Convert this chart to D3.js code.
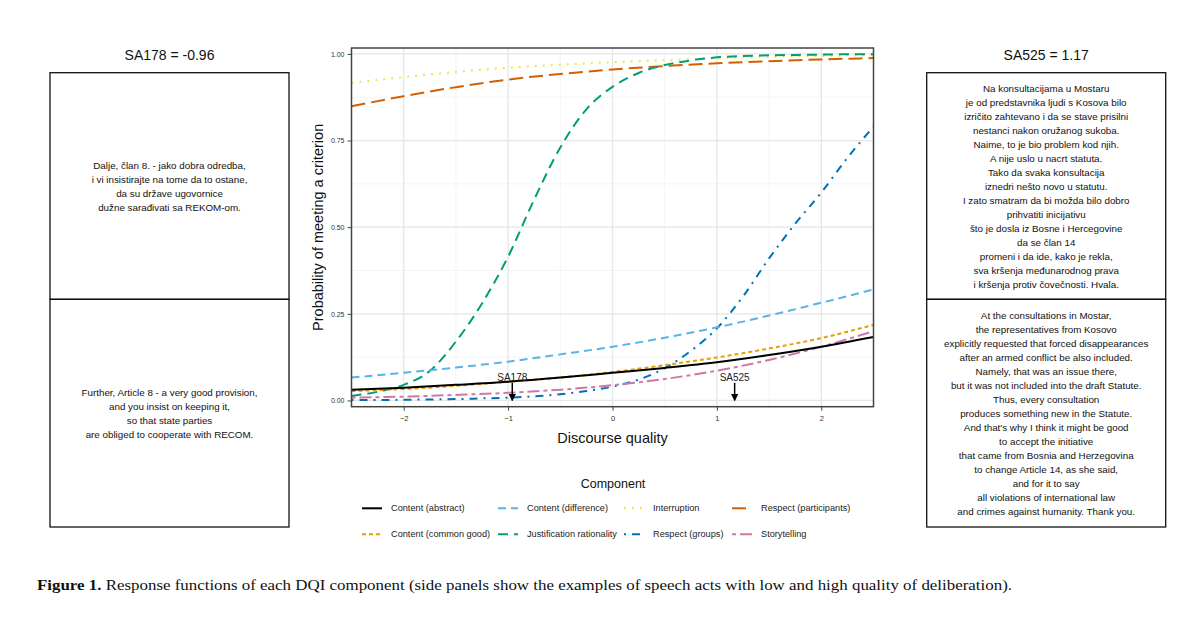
<!DOCTYPE html>
<html>
<head>
<meta charset="utf-8">
<script src="https://cdn.jsdelivr.net/npm/d3@7"></script>
<style>
  html, body { margin: 0; padding: 0; background: #fff; }
  svg { display: block; font-family: "Liberation Sans", Arial, sans-serif; }
</style>
</head>
<body>
<svg id="chart" width="1200" height="623"></svg>
<script>
// ---------------- DATA ----------------
const xCoarse = [-2.5, -2, -1.5, -1, -0.5, 0, 0.5, 1, 1.5, 2, 2.5];
const xFine = [-2.5, -2.25, -2, -1.75, -1.5, -1.25, -1, -0.75, -0.5, -0.25, 0,
               0.25, 0.5, 0.75, 1, 1.25, 1.5, 1.75, 2, 2.25, 2.5];

const contentAbstract     = [0.031, 0.037, 0.045, 0.054, 0.066, 0.080, 0.094, 0.110, 0.131, 0.155, 0.183];
const contentDifference   = [0.066, 0.080, 0.095, 0.112, 0.133, 0.155, 0.181, 0.211, 0.245, 0.282, 0.320];
const interruption        = [0.916, 0.933, 0.948, 0.960, 0.969, 0.976, 0.982, 0.987, 0.991, 0.994, 0.996];
const respectParticipants = [0.849, 0.878, 0.904, 0.926, 0.942, 0.955, 0.965, 0.973, 0.979, 0.984, 0.988];
const contentCommonGood   = [0.027, 0.033, 0.042, 0.054, 0.066, 0.082, 0.102, 0.124, 0.150, 0.180, 0.218];
const storytelling        = [0.008, 0.011, 0.016, 0.022, 0.031, 0.044, 0.062, 0.086, 0.117, 0.155, 0.200];
const justification       = [0.013, 0.025, 0.045, 0.085, 0.170, 0.280, 0.415, 0.580, 0.730, 0.840, 0.905,
                             0.945, 0.968, 0.981, 0.990, 0.994, 0.996, 0.997, 0.998, 0.999, 0.999];
const respectGroups       = [0.001, 0.001, 0.002, 0.003, 0.004, 0.006, 0.008, 0.012, 0.018, 0.027, 0.040,
                             0.060, 0.093, 0.143, 0.208, 0.300, 0.410, 0.510, 0.600, 0.700, 0.790];

const seriesNames  = ["Content (abstract)", "Content (difference)", "Interruption", "Respect (participants)",
                      "Content (common good)", "Justification rationality", "Respect (groups)", "Storytelling"];
const seriesValues = [contentAbstract, contentDifference, interruption, respectParticipants,
                      contentCommonGood, justification, respectGroups, storytelling];
const seriesX      = [xCoarse, xCoarse, xCoarse, xCoarse, xCoarse, xFine, xFine, xCoarse];
const seriesColors = ["#000000", "#56B4E9", "#F0E442", "#D55E00", "#E69F00", "#009E73", "#0072B2", "#CC79A7"];
const seriesDash   = [null, "8,5", "2,6", "14,6", "4,3", "10,6", "2,6,8,6", "4,4,12,4"];
// draw order (back to front)
const drawOrder = [2, 3, 5, 6, 1, 7, 4, 0];

const xTicks = [-2, -1, 0, 1, 2];
const yTicks = [0, 0.25, 0.5, 0.75, 1];
const xMinor = [-1.5, -0.5, 0.5, 1.5];
const yMinor = [0.125, 0.375, 0.625, 0.875];

const examples = [
  {name: "SA178", score: -0.96},
  {name: "SA525", score: 1.17}
];

const leftTitle = "SA178 = -0.96";
const rightTitle = "SA525 = 1.17";
const leftTop = [
  "Dalje, član 8. - jako dobra odredba,",
  "i vi insistirajte na tome da to ostane,",
  "da su države ugovornice",
  "dužne sarađivati sa REKOM-om."
];
const leftBottom = [
  "Further, Article 8 - a very good provision,",
  "and you insist on keeping it,",
  "so that state parties",
  "are obliged to cooperate with RECOM."
];
const rightTop = [
  "Na konsultacijama u Mostaru",
  "je od predstavnika ljudi s Kosova bilo",
  "izričito zahtevano i da se stave prisilni",
  "nestanci nakon oružanog sukoba.",
  "Naime, to je bio problem kod njih.",
  "A nije uslo u nacrt statuta.",
  "Tako da svaka konsultacija",
  "iznedri nešto novo u statutu.",
  "I zato smatram da bi možda bilo dobro",
  "prihvatiti inicijativu",
  "što je dosla iz Bosne i Hercegovine",
  "da se član 14",
  "promeni i da ide, kako je rekla,",
  "sva kršenja međunarodnog prava",
  "i kršenja protiv čovečnosti. Hvala."
];
const rightBottom = [
  "At the consultations in Mostar,",
  "the representatives from Kosovo",
  "explicitly requested that forced disappearances",
  "after an armed conflict be also included.",
  "Namely, that was an issue there,",
  "but it was not included into the draft Statute.",
  "Thus, every consultation",
  "produces something new in the Statute.",
  "And that's why I think it might be good",
  "to accept the initiative",
  "that came from Bosnia and Herzegovina",
  "to change Article 14, as she said,",
  "and for it to say",
  "all violations of international law",
  "and crimes against humanity. Thank you."
];
const captionBold = "Figure 1.";
const captionText = " Response functions of each DQI component (side panels show the examples of speech acts with low and high quality of deliberation).";

// ---------------- LAYOUT ----------------
const svg = d3.select("#chart");
const P = {left: 351.5, right: 873.5, top: 48, bottom: 406.7};

const x = d3.scaleLinear().domain([-2.5, 2.5]).range([P.left, P.right]);
const y = d3.scaleLinear().domain([-0.018, 1.017]).range([P.bottom, P.top]);

// grid
const grid = svg.append("g");
grid.selectAll(".gxm").data(xMinor).join("line")
  .attr("x1", d => x(d)).attr("x2", d => x(d)).attr("y1", P.top).attr("y2", P.bottom)
  .attr("stroke", "#f1f1f1").attr("stroke-width", 0.8);
grid.selectAll(".gym").data(yMinor).join("line")
  .attr("y1", d => y(d)).attr("y2", d => y(d)).attr("x1", P.left).attr("x2", P.right)
  .attr("stroke", "#f1f1f1").attr("stroke-width", 0.8);
grid.selectAll(".gx").data(xTicks).join("line")
  .attr("x1", d => x(d)).attr("x2", d => x(d)).attr("y1", P.top).attr("y2", P.bottom)
  .attr("stroke", "#e6e6e6").attr("stroke-width", 1.3);
grid.selectAll(".gy").data(yTicks).join("line")
  .attr("y1", d => y(d)).attr("y2", d => y(d)).attr("x1", P.left).attr("x2", P.right)
  .attr("stroke", "#e6e6e6").attr("stroke-width", 1.3);

// clip
svg.append("clipPath").attr("id", "clip").append("rect")
  .attr("x", P.left).attr("y", P.top).attr("width", P.right - P.left).attr("height", P.bottom - P.top);

const line = d3.line().curve(d3.curveMonotoneX);
const lines = svg.append("g").attr("clip-path", "url(#clip)");
drawOrder.forEach(i => {
  const pts = seriesX[i].map((xv, k) => [x(xv), y(seriesValues[i][k])]);
  lines.append("path")
    .attr("d", line(pts))
    .attr("fill", "none")
    .attr("stroke", seriesColors[i])
    .attr("stroke-width", 2)
    .attr("stroke-dasharray", seriesDash[i]);
});

// annotations
svg.append("defs").append("marker")
  .attr("id", "arrow").attr("viewBox", "0 0 10 10").attr("refX", 9).attr("refY", 5)
  .attr("markerWidth", 5).attr("markerHeight", 5).attr("orient", "auto")
  .append("path").attr("d", "M0,0 L10,5 L0,10 z").attr("fill", "#000");
const ann = svg.append("g");
examples.forEach(e => {
  ann.append("text").attr("x", x(e.score)).attr("y", y(0.057))
    .attr("text-anchor", "middle").attr("font-size", 10).attr("fill", "#222").text(e.name);
  ann.append("line").attr("x1", x(e.score)).attr("x2", x(e.score))
    .attr("y1", y(0.051)).attr("y2", y(0.0))
    .attr("stroke", "#000").attr("stroke-width", 1.5).attr("marker-end", "url(#arrow)");
});

// panel border
svg.append("rect").attr("x", P.left).attr("y", P.top)
  .attr("width", P.right - P.left).attr("height", P.bottom - P.top)
  .attr("fill", "none").attr("stroke", "#444").attr("stroke-width", 1.5);

// axes
const yAxis = svg.append("g").attr("transform", `translate(${P.left},0)`)
  .call(d3.axisLeft(y).tickValues(yTicks).tickFormat(d3.format(".2f")).tickSize(4).tickPadding(3));
yAxis.select(".domain").remove();
yAxis.selectAll("line").attr("stroke", "#444");
yAxis.selectAll("text").attr("font-size", 7).attr("fill", "#333")
  .style("font-family", "'Liberation Sans', Arial, sans-serif");

const xAxis = svg.append("g").attr("transform", `translate(0,${P.bottom})`)
  .call(d3.axisBottom(x).tickValues(xTicks).tickFormat(d3.format("d")).tickSize(4).tickPadding(5));
xAxis.select(".domain").remove();
xAxis.selectAll("line").attr("stroke", "#444");
xAxis.selectAll("text").attr("font-size", 7.5).attr("fill", "#333")
  .style("font-family", "'Liberation Sans', Arial, sans-serif");

// axis titles
svg.append("text").attr("transform", `translate(318,${(P.top + P.bottom) / 2}) rotate(-90)`)
  .attr("text-anchor", "middle").attr("dominant-baseline", "central")
  .attr("font-size", 14.5).attr("fill", "#111").text("Probability of meeting a criterion");
svg.append("text").attr("x", (P.left + P.right) / 2).attr("y", 443)
  .attr("text-anchor", "middle").attr("font-size", 14.5).attr("fill", "#111").text("Discourse quality");

// legend
svg.append("text").attr("x", 613).attr("y", 488).attr("text-anchor", "middle")
  .attr("font-size", 12.5).attr("fill", "#111").text("Component");
const legCols = [362, 498, 624, 732];
const legRows = [508.3, 534.3];
seriesNames.forEach((name, i) => {
  const cx = legCols[i % 4], cy = legRows[Math.floor(i / 4)];
  svg.append("line").attr("x1", cx).attr("x2", cx + 20).attr("y1", cy).attr("y2", cy)
    .attr("stroke", seriesColors[i]).attr("stroke-width", 2)
    .attr("stroke-dasharray", seriesDash[i]);
  svg.append("text").attr("x", cx + 29).attr("y", cy).attr("dominant-baseline", "central")
    .attr("font-size", 9.2).attr("fill", "#222").text(name);
});

// side panels
function sidePanel(x0, x1, title, top, bottom) {
  const g = svg.append("g");
  const yTop = 72.7, yMid = 299.3, yBot = 527;
  g.append("text").attr("x", (x0 + x1) / 2).attr("y", 55).attr("text-anchor", "middle")
    .attr("dominant-baseline", "central").attr("font-size", 14).attr("fill", "#111").text(title);
  g.append("rect").attr("x", x0).attr("y", yTop).attr("width", x1 - x0).attr("height", yMid - yTop)
    .attr("fill", "none").attr("stroke", "#111").attr("stroke-width", 1.3);
  g.append("rect").attr("x", x0).attr("y", yMid).attr("width", x1 - x0).attr("height", yBot - yMid)
    .attr("fill", "none").attr("stroke", "#111").attr("stroke-width", 1.3);
  const lh = 14;
  [[top, (yTop + yMid) / 2 + 0.5], [bottom, (yMid + yBot) / 2]].forEach(([arr, c]) => {
    const start = c - (arr.length - 1) * lh / 2;
    arr.forEach((t, k) => {
      g.append("text").attr("x", (x0 + x1) / 2).attr("y", start + k * lh)
        .attr("text-anchor", "middle").attr("dominant-baseline", "central")
        .attr("font-size", 9.8).attr("fill", "#111").text(t);
    });
  });
}
sidePanel(50, 289, leftTitle, leftTop, leftBottom);
sidePanel(926.7, 1165.7, rightTitle, rightTop, rightBottom);

// caption
const cap = svg.append("text").attr("x", 37).attr("y", 590)
  .style("font-family", "'Liberation Serif', 'DejaVu Serif', serif").attr("font-size", 15.5).attr("fill", "#111")
  .attr("textLength", 975).attr("lengthAdjust", "spacingAndGlyphs");
cap.append("tspan").attr("font-weight", "bold").text(captionBold);
cap.append("tspan").text(captionText);
</script>
</body>
</html>
